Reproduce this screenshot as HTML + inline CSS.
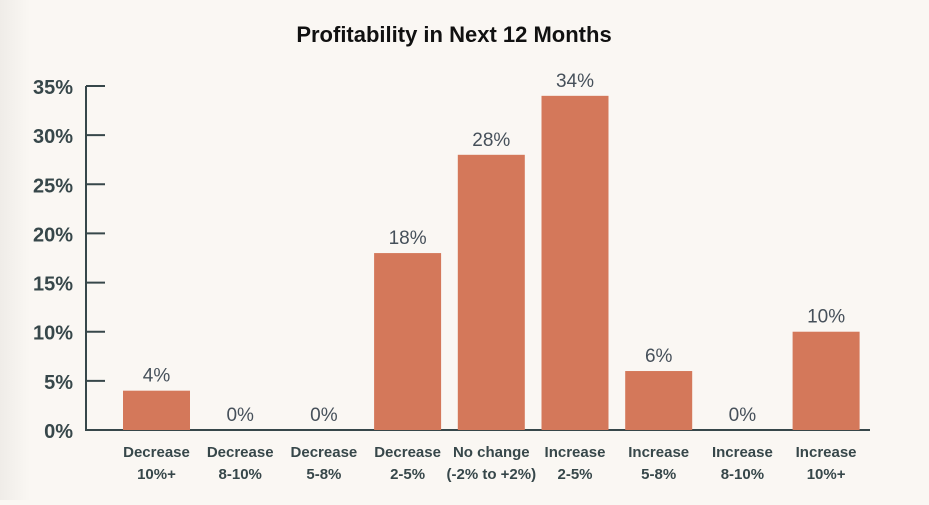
<!DOCTYPE html>
<html><head><meta charset="utf-8"><style>
body{margin:0;width:929px;height:500px;overflow:hidden;background:#faf7f3;font-family:"Liberation Sans",sans-serif}
</style></head><body>
<svg width="929" height="500">
<defs><linearGradient id="g" x1="0" x2="1"><stop offset="0" stop-color="#efece8"/><stop offset="1" stop-color="#faf7f3"/></linearGradient></defs>
<rect x="0" y="0" width="30" height="500" fill="url(#g)"/>
<text x="454" y="42" text-anchor="middle" font-size="22" font-weight="bold" fill="#111">Profitability in Next 12 Months</text>
<g id="axis"></g><g id="bars"></g>
</svg>
<script>
const categories=[["Decrease","10%+"],["Decrease","8-10%"],["Decrease","5-8%"],["Decrease","2-5%"],["No change","(-2% to +2%)"],["Increase","2-5%"],["Increase","5-8%"],["Increase","8-10%"],["Increase","10%+"]];
const values=[4,0,0,18,28,34,6,0,10];
const valueLabels=["4%","0%","0%","18%","28%","34%","6%","0%","10%"];
const ticks=[0,5,10,15,20,25,30,35];
const tickLabels=["0%","5%","10%","15%","20%","25%","30%","35%"];
const NS="http://www.w3.org/2000/svg";
const y0=430,ppu=344/35,x0=156.5,step=83.7,bw=67,ax="#37474a";
const y=v=>y0-v*ppu, x=i=>x0+i*step;
function el(t,a,p){const e=document.createElementNS(NS,t);for(const k in a)e.setAttribute(k,a[k]);p.appendChild(e);return e;}
const A=document.getElementById('axis'),B=document.getElementById('bars');
const yl=el('line',{x1:86,x2:86,y1:y(35),y2:y0+1,stroke:ax,'stroke-width':2},A);


const xl=el('line',{x1:85,x2:870,y1:y0,y2:y0,stroke:ax,'stroke-width':2},A);


ticks.forEach((t,i)=>{
 if(t>0){const l=el('line',{x1:86,x2:105,y1:y(t),y2:y(t),stroke:ax,'stroke-width':2},A);
 
 }
 const tx=el('text',{x:73,y:y(t)+8,'text-anchor':'end','font-size':20,'font-weight':'bold',fill:ax},A);
 tx.textContent=tickLabels[i];
 
 
});
values.forEach((v,i)=>{
 const r=el('rect',{x:x(i)-bw/2,y:y(v),width:bw,height:y0-y(v),fill:'#d4785a'},B);
 
 
 const t=el('text',{x:x(i),y:y(v)-9,'text-anchor':'middle','font-size':19,fill:'#46505a'},B);
 t.textContent=valueLabels[i];
 
 
 categories[i].forEach((s,j)=>{
  const c=el('text',{x:x(i),y:457+j*22,'text-anchor':'middle','font-size':15,'font-weight':'bold',fill:ax},B);
  c.textContent=s;
  
  
 });
});
</script>
</body></html>
